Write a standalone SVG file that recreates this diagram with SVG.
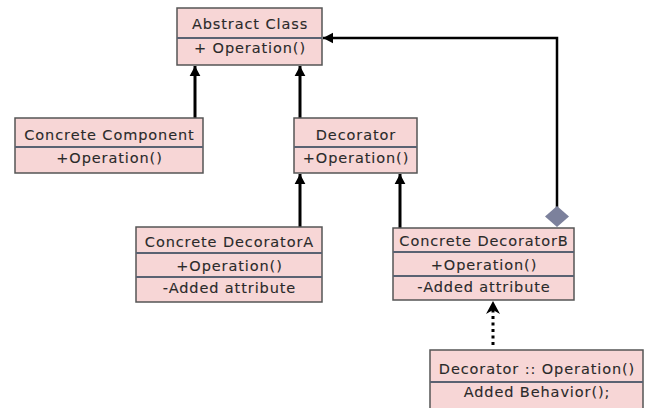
<svg xmlns="http://www.w3.org/2000/svg" width="650" height="408" viewBox="0 0 650 408">
  <style>
    .box { fill: #f7d6d6; stroke: #555; stroke-width: 1.5; }
    .div { stroke: #5a6272; stroke-width: 2; }
    .t { font-family: "DejaVu Sans", Verdana, sans-serif; font-size: 14.5px; fill: #2a2a2a; stroke: #2a2a2a; stroke-width: 0.1; text-anchor: middle; letter-spacing: 0.9px; }
    .edge { fill: none; stroke: #000; stroke-width: 3; }
  </style>
  <defs>
    <marker id="arr" markerUnits="userSpaceOnUse" markerWidth="20" markerHeight="20" viewBox="-10 -10 20 20" refX="0" refY="0" orient="auto">
      <path d="M0,0 L-14,-7.5 L-9.5,0 L-14,7.5 Z" fill="#000"/>
    </marker>
  </defs>

  <rect width="650" height="408" fill="#fff"/>

  <g id="connectors">
    <line class="edge" x1="195" y1="118" x2="195" y2="66" marker-end="url(#arr)"/>
    <line class="edge" x1="300" y1="118" x2="300" y2="66" marker-end="url(#arr)"/>
    <line class="edge" x1="300" y1="227" x2="300" y2="174" marker-end="url(#arr)"/>
    <line class="edge" x1="400" y1="228" x2="400" y2="174" marker-end="url(#arr)"/>
    <polyline class="edge" style="stroke-width:2.5" points="557,208 557,38 323,38" marker-end="url(#arr)"/>
    <polygon points="557,206 569,216.5 557,227 545,216.5" fill="#7c819c"/>
    <line class="edge" x1="493" y1="345" x2="493" y2="306" stroke-dasharray="3,3.5"/>
    <path d="M493,301 L486,314 L493,310 L500,314 Z" fill="#000"/>
  </g>

  <g id="abstract-class">
    <rect class="box" x="177" y="8" width="145" height="57"/>
    <line class="div" x1="177" y1="38" x2="322" y2="38"/>
    <text class="t" x="250" y="29">Abstract Class</text>
    <text class="t" x="250" y="53">+ Operation()</text>
  </g>

  <g id="concrete-component">
    <rect class="box" x="15" y="118" width="188" height="55"/>
    <line class="div" x1="15" y1="147" x2="203" y2="147"/>
    <text class="t" x="109.5" y="139.5">Concrete Component</text>
    <text class="t" x="109.5" y="163">+Operation()</text>
  </g>

  <g id="decorator">
    <rect class="box" x="294" y="118" width="123" height="55"/>
    <line class="div" x1="294" y1="147" x2="417" y2="147"/>
    <text class="t" x="356" y="139.5">Decorator</text>
    <text class="t" x="356" y="163">+Operation()</text>
  </g>

  <g id="concrete-decorator-a">
    <rect class="box" x="136" y="227" width="186" height="75"/>
    <line class="div" x1="136" y1="253" x2="322" y2="253"/>
    <line class="div" x1="136" y1="277" x2="322" y2="277"/>
    <text class="t" x="229.5" y="247">Concrete DecoratorA</text>
    <text class="t" x="229.5" y="271">+Operation()</text>
    <text class="t" x="229.5" y="293">-Added attribute</text>
  </g>

  <g id="concrete-decorator-b">
    <rect class="box" x="393" y="228" width="181" height="72"/>
    <line class="div" x1="393" y1="252" x2="574" y2="252"/>
    <line class="div" x1="393" y1="276" x2="574" y2="276"/>
    <text class="t" x="484" y="246">Concrete DecoratorB</text>
    <text class="t" x="484" y="270">+Operation()</text>
    <text class="t" x="484" y="292">-Added attribute</text>
  </g>

  <g id="note">
    <rect class="box" x="430" y="350" width="213" height="64"/>
    <line class="div" x1="430" y1="382" x2="643" y2="382"/>
    <text class="t" x="537" y="374">Decorator :: Operation()</text>
    <text class="t" x="537" y="397">Added Behavior();</text>
  </g>
</svg>
